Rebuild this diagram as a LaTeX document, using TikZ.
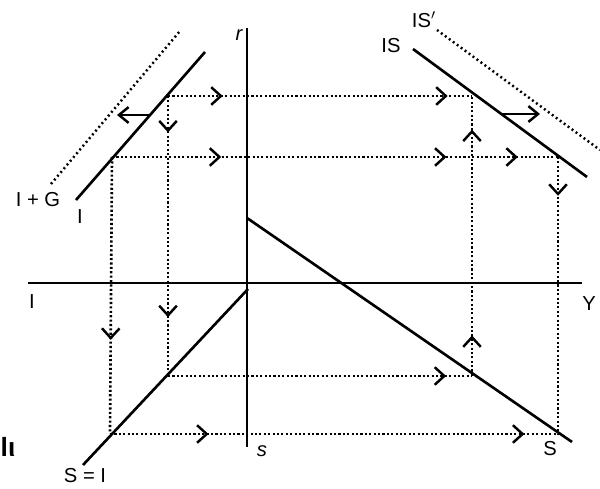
\documentclass[tikz,border=0pt]{standalone}
\usepackage{fontspec}
\setmainfont{Liberation Sans}
\usetikzlibrary{arrows.meta, decorations.markings}

\begin{document}
\begin{tikzpicture}[
  x=0.2mm, y=-0.2mm,
  curve/.style={line width=1.5pt},
  guide/.style={line width=1.5pt, dash pattern=on 1.2pt off 1.3pt},
  shifted/.style={line width=1.4pt, dash pattern=on 1.1pt off 1.7pt},
  lbl/.style={font=\fontsize{11.5}{13}\selectfont, inner sep=0pt},
  tip/.style={postaction={decorate, decoration={markings,
      mark=at position #1 with {\arrow[line width=1.4pt]{Straight Barb[length=5.5pt, width=10pt]}}}}},
  push/.style={line width=1.4pt, -{Straight Barb[length=5.5pt, width=9pt]}},
]
\useasboundingbox (0,0) rectangle (600,489);

% ---- axes ----
\coordinate (rtop) at (247,28);
\coordinate (sbot) at (247,447);
\coordinate (ileft) at (28,283);
\coordinate (yright) at (582,283);
\draw[curve] (rtop) -- (sbot);
\draw[curve] (ileft) -- (yright);

% ---- curves ----
\coordinate (Ilo)  at (76,200);
\coordinate (Ihi)  at (205,52);
\coordinate (IGlo) at (51,184);
\coordinate (IGhi) at (180,31);
\coordinate (ISa)  at (413,49);
\coordinate (ISb)  at (587,177);
\coordinate (ISpa) at (437,30);
\coordinate (ISpb) at (600,150);
\coordinate (SIa)  at (248,289);
\coordinate (SIb)  at (83,465);
\coordinate (Sa)   at (247,218);
\coordinate (Sb)   at (572,442);

\draw[curve] (Ilo) -- (Ihi);
\draw[shifted] (IGlo) -- (IGhi);
\draw[curve] (ISa) -- (ISb);
\draw[shifted] (ISpa) -- (ISpb);
\draw[curve] (SIa) -- (SIb);
\draw[curve] (Sa) -- (Sb);

% ---- shifts ----
\coordinate (pl0) at (151,115);
\coordinate (pl1) at (117,115);
\coordinate (pr0) at (502,114);
\coordinate (pr1) at (540,114);
\draw[push] (pl0) -- (pl1);
\draw[push] (pr0) -- (pr1);

% ---- dotted paths ----
\coordinate (A1) at (168,96);
\coordinate (B1) at (472,96);
\coordinate (A2) at (112,157);
\coordinate (B2) at (558,157);
\coordinate (C1) at (168,376);
\coordinate (D1) at (472,376);
\coordinate (C2) at (110,434);
\coordinate (D2) at (558,434);

\draw[guide, tip=0.18, tip=0.92] (A1) -- (B1);
\draw[guide, tip=0.245, tip=0.75, tip=0.91] (A2) -- (B2);
\draw[guide, tip=0.13, tip=0.79] (A1) -- (C1);
\draw[guide, tip=0.66] (A2 |- 0,157) -- (C2);
\draw[guide, tip=0.915] (C1) -- (D1);
\draw[guide, tip=0.145, tip=0.88] (D1) -- (B1);
\draw[guide, tip=0.22, tip=0.925] (C2) -- (D2);
\draw[guide, tip=0.14] (B2) -- (D2);

% ---- labels ----
\node[lbl] (rlab)  at (239,35)  {\itshape r};
\node[lbl] (slab)  at (262,451) {\itshape s};
\node[lbl] (ilab)  at (32,302)  {I};
\node[lbl] (ylab)  at (589,304) {Y};
\node[lbl] (iglab) at (38,200)  {I + G};
\node[lbl] (iilab) at (80,217)  {I};
\node[lbl] (islab) at (391,46)  {IS};
\node[lbl] (isplab) at (424,20) {IS$'$};
\node[lbl] (silab) at (85,476)  {S = I};
\node[lbl] (sslab) at (550,449) {S};
\node[lbl, font=\fontsize{15}{17}\selectfont\bfseries] (cut) at (8,447) {lι};

\end{tikzpicture}
\end{document}
